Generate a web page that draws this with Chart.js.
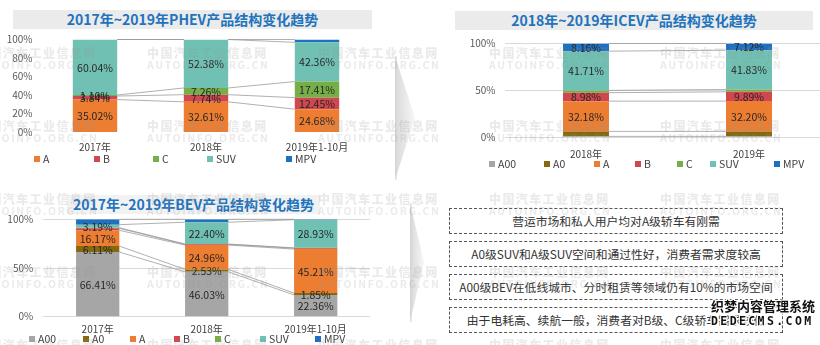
<!DOCTYPE html>
<html lang="zh-CN">
<head>
<meta charset="utf-8">
<title>2017年~2019年产品结构变化趋势</title>
<script src="https://cdn.jsdelivr.net/npm/chart.js@4.4.1/dist/chart.umd.min.js"></script>
<style>
  html, body { margin: 0; padding: 0; background: #fff; overflow: hidden; }
  #stage { position: relative; width: 820px; height: 345px; overflow: hidden;
           font-family: "Noto Sans CJK SC", "Noto Sans", sans-serif; }
  canvas { position: absolute; }
  .banner { position: absolute; background: #ebebeb; color: #2273bd; font-weight: bold;
            font-size: 14px; line-height: 19px; height: 19px; text-align: center; white-space: nowrap; }
  .legend { position: absolute; left: 0; width: 420px; height: 12px; font-size: 10.5px; color: #404040; }
  .legend span { position: absolute; top: 0; line-height: 12px; white-space: nowrap; }
  .legend i { display: inline-block; width: 6px; height: 6px; margin-right: 3px; vertical-align: 1px; }
  .note { position: absolute; left: 449px; width: 332px; height: 24px; border: 1px dashed #555;
          font-size: 11.8px; color: #333; line-height: 24px; text-align: center; white-space: nowrap; overflow: hidden; }
  #marks { position: absolute; left: 0; top: 0; width: 820px; height: 345px; pointer-events: none; }
  .wm { position: absolute; white-space: nowrap; color: rgba(150, 150, 150, 0.2); font-weight: bold; }
  .wm b { display: block; font-size: 12px; letter-spacing: 1.4px; line-height: 13px; }
  .wm em { display: block; font-style: normal; font-size: 10.5px; letter-spacing: 1.6px; line-height: 12px; }
  #logo { position: absolute; left: 711px; top: 298px; color: #111; font-weight: bold;
          text-shadow: 1px 1px 0 #fff, -1px -1px 0 #fff, 1px -1px 0 #fff, -1px 1px 0 #fff, 0 0 2px #fff; }
  #logo div:first-child { font-size: 13px; letter-spacing: 0; line-height: 16px; }
  #logo div:last-child { font-size: 11.5px; letter-spacing: 2.4px; line-height: 14px; font-family: "DejaVu Sans Mono", monospace; }
</style>
</head>
<body>
<div id="stage">
  <svg width="820" height="345" style="position:absolute;left:0;top:0">
    <defs>
      <linearGradient id="arrowFill" x1="0" x2="1" y1="0" y2="0">
        <stop offset="0" stop-color="#d9d9d9"/>
        <stop offset="1" stop-color="#f7f7f7"/>
      </linearGradient>
    </defs>
    <polygon points="395,56 415,118 395,180" fill="url(#arrowFill)"/>
    <line x1="396" y1="56" x2="396" y2="180" stroke="#d3d3d3" stroke-width="1"/>
    <polygon points="410,203 424,262 410,322" fill="url(#arrowFill)"/>
    <line x1="411" y1="203" x2="411" y2="322" stroke="#d3d3d3" stroke-width="1"/>
  </svg>

  <div class="banner" style="left:13px;top:10px;width:359px">2017年~2019年PHEV产品结构变化趋势</div>
  <div class="banner" style="left:455px;top:11px;width:358px">2018年~2019年ICEV产品结构变化趋势</div>
  <div class="banner" style="left:67px;top:195px;width:253px;background:#f2f2f2">2017年~2019年BEV产品结构变化趋势</div>

  <canvas id="phevChart" width="380" height="157" style="left:0;top:0"></canvas>
  <canvas id="icevChart" width="381" height="170" style="left:450px;top:0"></canvas>
  <canvas id="bevChart" width="380" height="160" style="left:0;top:180px"></canvas>

  <div class="legend" id="phevLegend" style="top:153px"></div>
  <div class="legend" id="icevLegend" style="top:158px;left:420px"></div>
  <div class="legend" id="bevLegend" style="top:333px"></div>

  <div class="note" style="top:208px">营运市场和私人用户均对A级轿车有刚需</div>
  <div class="note" style="top:241px">A0级SUV和A级SUV空间和通过性好，消费者需求度较高</div>
  <div class="note" style="top:274px">A00级BEV在低线城市、分时租赁等领域仍有10%的市场空间</div>
  <div class="note" style="top:307px">由于电耗高、续航一般，消费者对B级、C级轿车需求较低</div>

  <div id="marks"></div>
  <div id="logo"><div>织梦内容管理系统</div><div>DEDECMS.COM</div></div>
</div>

<script>
// 数据（单位：%）
const phevYears = ['2017年', '2018年', '2019年1-10月'];
const phevSeries = ['A', 'B', 'C', 'SUV', 'MPV'];
const phevA = [35.02, 32.61, 24.68];
const phevB = [3.84, 7.74, 12.45];
const phevC = [1.10, 7.26, 17.41];
const phevSUV = [60.04, 52.38, 42.36];
const phevMPV = [0, 0.01, 3.10];

const icevYears = ['2018年', '2019年'];
const icevSeries = ['A00', 'A0', 'A', 'B', 'C', 'SUV', 'MPV'];
const icevA00 = [1.2, 1.2];
const icevA0 = [5.3, 5.3];
const icevA = [32.18, 32.20];
const icevB = [8.98, 9.89];
const icevC = [2.47, 2.46];
const icevSUV = [41.71, 41.83];
const icevMPV = [8.16, 7.12];

const bevYears = ['2017年', '2018年', '2019年1-10月'];
const bevSeries = ['A00', 'A0', 'A', 'B', 'C', 'SUV', 'MPV'];
const bevA00 = [66.41, 46.03, 22.36];
const bevA0 = [6.11, 2.53, 1.85];
const bevA = [16.17, 24.96, 45.21];
const bevB = [2.0, 0.8, 0.9];
const bevC = [0.62, 0.28, 0.35];
const bevSUV = [3.19, 22.40, 28.93];
const bevMPV = [5.5, 3.0, 0.4];

const segColors = {
    A00: '#a6a6a6', A0: '#86690f', A: '#ed7d31', B: '#d0474f',
    C: '#76ae48', SUV: '#70c1b3', MPV: '#1f70c1'
};
const fontFamily = '"Noto Sans CJK SC", "Noto Sans", sans-serif';

// Excel 风格的系列线：连接相邻柱子的同一分段顶部
const seriesLines = {
    id: 'seriesLines',
    beforeDatasetsDraw(chart) {
        const ctx = chart.ctx;
        ctx.save();
        ctx.strokeStyle = 'rgba(150, 150, 150, 0.75)';
        ctx.lineWidth = 1;
        chart.data.datasets.forEach((ds, i) => {
            const bars = chart.getDatasetMeta(i).data;
            for (let j = 0; j < bars.length - 1; j++) {
                const a = bars[j], b = bars[j + 1];
                ctx.beginPath();
                ctx.moveTo(a.x + a.width / 2, a.y);
                ctx.lineTo(b.x - b.width / 2, b.y);
                ctx.stroke();
            }
        });
        ctx.restore();
    }
};

// 分段中心的数据标签
const segmentLabels = {
    id: 'segmentLabels',
    afterDatasetsDraw(chart) {
        const ctx = chart.ctx;
        ctx.save();
        ctx.font = '10.5px ' + fontFamily;
        ctx.fillStyle = '#262626';
        ctx.textAlign = 'center';
        ctx.textBaseline = 'middle';
        chart.data.datasets.forEach((ds, i) => {
            if (!ds.showValue) return;
            chart.getDatasetMeta(i).data.forEach((bar, j) => {
                const p = bar.getCenterPoint();
                ctx.fillText(ds.data[j].toFixed(2) + '%', p.x, p.y + 0.5);
            });
        });
        ctx.restore();
    }
};

function stackChart(id, years, names, values, labelled, lay) {
    const datasets = names.map((name, i) => ({
        label: name,
        data: values[i],
        backgroundColor: segColors[name],
        borderWidth: 0,
        barPercentage: lay.bar,
        categoryPercentage: 1,
        showValue: labelled.includes(name)
    }));
    const tickFont = { family: fontFamily, size: 10 };
    return new Chart(document.getElementById(id), {
        type: 'bar',
        data: { labels: years, datasets: datasets },
        options: {
            responsive: false,
            animation: false,
            layout: { padding: lay.padding },
            plugins: { legend: { display: false }, tooltip: { enabled: false } },
            scales: {
                x: {
                    stacked: true,
                    grid: { display: false, drawTicks: false },
                    border: { display: false },
                    ticks: { color: '#404040', font: tickFont, padding: lay.xPad, maxRotation: 0 },
                    afterFit: (s) => { s.height = lay.xH; }
                },
                y: {
                    stacked: true,
                    min: 0,
                    max: 100,
                    grid: { display: lay.grid, color: '#d9d9d9', drawTicks: false },
                    border: { display: false },
                    ticks: { stepSize: lay.step, color: '#595959', font: tickFont, padding: lay.yPad,
                             callback: (v) => v + '%' },
                    afterFit: (s) => { s.width = lay.yW; }
                }
            }
        },
        plugins: [seriesLines, segmentLabels]
    });
}

function buildLegend(id, names, lefts) {
    const box = document.getElementById(id);
    names.forEach((name, i) => {
        const item = document.createElement('span');
        item.style.left = lefts[i] + 'px';
        item.innerHTML = '<i style="background:' + segColors[name] + '"></i>' + name;
        box.appendChild(item);
    });
}

function buildWatermarks() {
    const layer = document.getElementById('marks');
    for (let r = 0; r < 5; r++) {
        for (let c = 0; c < 6; c++) {
            const wm = document.createElement('div');
            wm.className = 'wm';
            wm.style.left = (-24 + c * 171) + 'px';
            wm.style.top = (46 + r * 73) + 'px';
            wm.innerHTML = '<b>中国汽车工业信息网</b><em>AUTOINFO.ORG.CN</em>';
            layer.appendChild(wm);
        }
    }
}

document.addEventListener('DOMContentLoaded', () => {
    stackChart('phevChart', phevYears, phevSeries,
        [phevA, phevB, phevC, phevSUV, phevMPV], ['A', 'B', 'C', 'SUV'],
        { bar: 0.4, padding: { top: 39.5, right: 7.5 }, yW: 39.5, xH: 25, xPad: 9, yPad: 7, grid: false, step: 20 });

    stackChart('icevChart', icevYears, icevSeries,
        [icevA00, icevA0, icevA, icevB, icevC, icevSUV, icevMPV], ['A', 'B', 'SUV', 'MPV'],
        { bar: 0.282, padding: { top: 43.5, right: 0.5 }, yW: 54.5, xH: 32.5, xPad: 11, yPad: 9, grid: true, step: 50 });

    stackChart('bevChart', bevYears, bevSeries,
        [bevA00, bevA0, bevA, bevB, bevC, bevSUV, bevMPV], ['A00', 'A0', 'A', 'SUV'],
        { bar: 0.397, padding: { top: 39.3, right: 9.8 }, yW: 43.2, xH: 23.3, xPad: 7, yPad: 10, grid: true, step: 50 });

    buildLegend('phevLegend', phevSeries, [34, 94, 153, 207, 286]);
    buildLegend('icevLegend', icevSeries, [69, 124, 174, 215, 257, 290, 354]);
    buildLegend('bevLegend', bevSeries, [29, 83, 130, 174, 215, 260, 315]);
    buildWatermarks();
});
</script>
</body>
</html>
